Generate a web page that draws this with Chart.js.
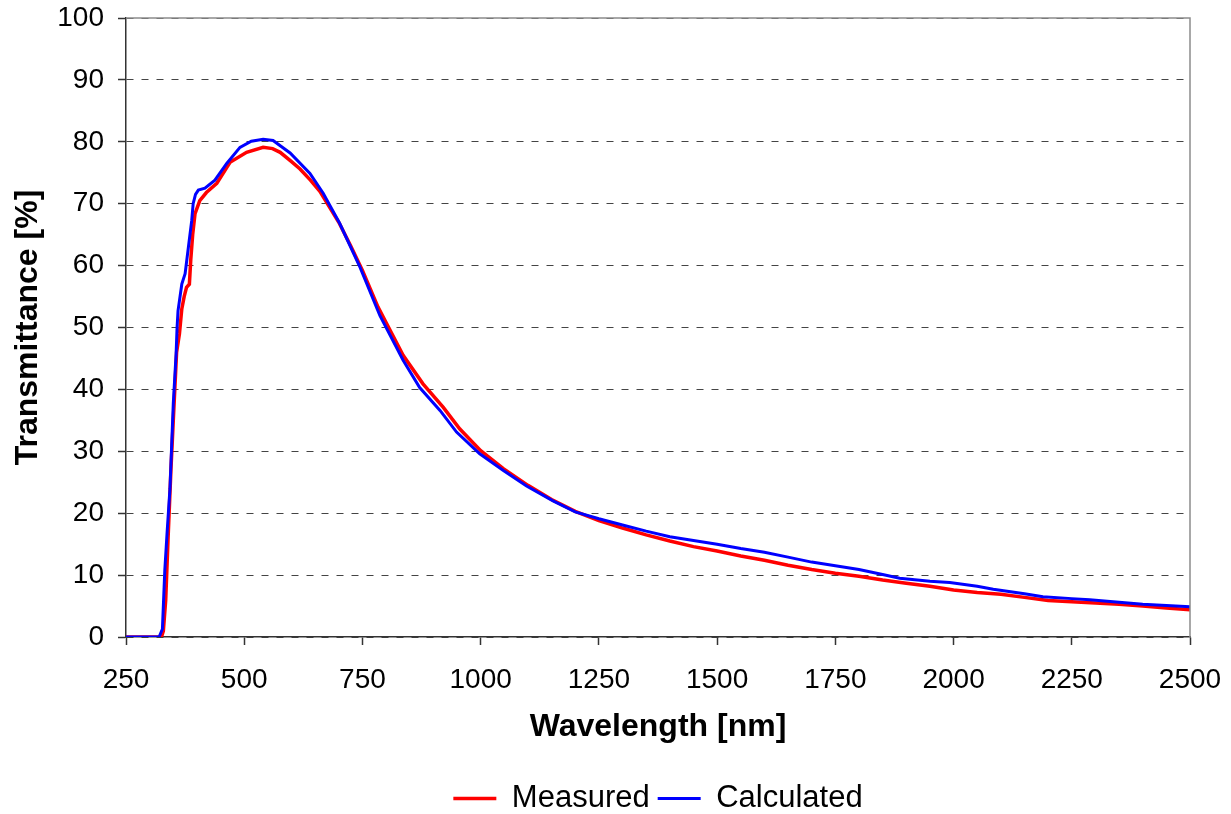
<!DOCTYPE html>
<html>
<head>
<meta charset="utf-8">
<script src="https://cdn.jsdelivr.net/npm/chart.js@4"></script>
<style>
    html, body { margin: 0; padding: 0; background: #fff; }
    #wrap { width: 1231px; height: 814px; }
</style>
</head>
<body>
<div id="wrap"><canvas id="grafico"></canvas></div>
<script>
// Measured transmittance (red)
const measuredWl = [250, 300, 325, 329, 334, 339, 345, 350, 357, 363, 368, 373, 378, 384, 387, 391, 396, 406, 420, 442,
    470, 505, 540, 560, 576, 600, 618, 640, 660, 680, 700, 725, 750, 783, 800, 836, 878, 921, 956, 1000,
    1048, 1100, 1150, 1200, 1250, 1300, 1350, 1400, 1450, 1500, 1550, 1600, 1650, 1700, 1750, 1800, 1850, 1900, 1950, 2000,
    2050, 2100, 2150, 2200, 2250, 2300, 2350, 2400, 2450, 2500];
const measuredT = [0, 0, 0, 1, 6, 16, 27, 35, 46, 49, 53, 55, 56.5, 57, 61, 65, 68.4, 70.5, 71.8, 73.3,
    76.7, 78.3, 79.1, 78.9, 78.3, 76.8, 75.6, 73.8, 72.0, 69.5, 67.0, 63.2, 59.2, 53.3, 50.8, 45.5, 40.9, 37.1, 33.6, 30.1,
    27.2, 24.5, 22.2, 20.3, 18.8, 17.6, 16.5, 15.5, 14.6, 13.9, 13.1, 12.4, 11.6, 10.9, 10.3, 9.8, 9.2, 8.7, 8.2, 7.6,
    7.2, 6.9, 6.4, 5.9, 5.7, 5.5, 5.3, 5.0, 4.7, 4.4];

// Calculated transmittance (blue)
const calculatedWl = [250, 300, 320, 327, 332, 337, 343, 350, 356, 358, 360, 368, 375, 382, 389, 392, 397, 403, 417, 438,
    463, 491, 515, 540, 561, 597, 639, 667, 702, 745, 787, 836, 871, 914, 949, 998, 1048, 1097, 1153, 1200,
    1250, 1300, 1350, 1400, 1450, 1500, 1550, 1600, 1650, 1700, 1750, 1800, 1850, 1886, 1950, 1992, 2050, 2084, 2150, 2189,
    2250, 2288, 2350, 2400, 2450, 2500];
const calculatedT = [0, 0, 0, 1.3, 10.7, 17, 24, 37.7, 45.8, 50, 52.7, 57, 58.7, 63, 67.3, 70, 71.5, 72.2, 72.5, 73.8,
    76.5, 79.1, 80.1, 80.4, 80.2, 78.2, 74.9, 71.7, 66.8, 59.7, 51.9, 44.7, 40.3, 36.6, 33.1, 29.6, 26.9, 24.4, 22.0, 20.2,
    19.1, 18.1, 17.1, 16.2, 15.6, 15.0, 14.3, 13.7, 12.9, 12.1, 11.5, 10.9, 10.1, 9.5, 9.0, 8.8, 8.2, 7.7, 7.0, 6.5,
    6.2, 6.0, 5.6, 5.3, 5.1, 4.9];

const seriesLabels = ['Measured', 'Calculated'];
const xTitle = 'Wavelength [nm]';
const yTitle = 'Transmittance [%]';
const xMin = 250, xMax = 2500, xStep = 250;
const yMin = 0, yMax = 100, yStep = 10;

const toPoints = (xs, ys) => xs.map((x, i) => ({x: x, y: ys[i]}));

// moldura cinza em volta da área do gráfico
const plotFrame = {
    id: 'plotFrame',
    afterDraw(chart) {
        const a = chart.chartArea;
        const ctx = chart.ctx;
        ctx.save();
        ctx.strokeStyle = '#8c8c8c';
        ctx.lineWidth = 1.5;
        ctx.beginPath();
        ctx.moveTo(a.left, a.top);
        ctx.lineTo(a.right, a.top);
        ctx.lineTo(a.right, a.bottom);
        ctx.stroke();
        ctx.restore();
    }
};

Chart.defaults.font.family = '"Liberation Sans", Arial, sans-serif';
Chart.defaults.color = '#000';

new Chart(document.getElementById('grafico').getContext('2d'), {
    type: 'line',
    data: {
        datasets: [{
            label: seriesLabels[0],
            data: toPoints(measuredWl, measuredT),
            borderColor: '#ff0000',
            backgroundColor: '#ff0000',
            borderWidth: 3.5,
            pointRadius: 0,
            tension: 0,
            order: 1
        }, {
            label: seriesLabels[1],
            data: toPoints(calculatedWl, calculatedT),
            borderColor: '#0000ff',
            backgroundColor: '#0000ff',
            borderWidth: 3,
            pointRadius: 0,
            tension: 0,
            order: 0
        }]
    },
    options: {
        responsive: true,
        maintainAspectRatio: false,
        animation: false,
        layout: { padding: { top: 18, right: 41, bottom: -10, left: 0 } },
        plugins: {
            legend: {
                position: 'bottom',
                fullSize: false,
                labels: {
                    usePointStyle: true,
                    pointStyle: 'line',
                    pointStyleWidth: 43,
                    font: { size: 31 },
                    color: '#000',
                    padding: 8,
                    sort: (a, b) => a.datasetIndex - b.datasetIndex
                }
            },
            tooltip: { enabled: false }
        },
        scales: {
            x: {
                type: 'linear',
                min: xMin,
                max: xMax,
                afterFit(scale) {
                    scale.height = 138;
                    scale.paddingLeft = 0;
                    scale.paddingRight = 0;
                },
                ticks: { stepSize: xStep, font: { size: 28 }, color: '#000', padding: 18, maxRotation: 0,
                    callback: (v) => String(v) },
                grid: { drawOnChartArea: false, drawTicks: true, tickLength: 8, color: '#333', tickWidth: 1.5 },
                border: { color: '#333', width: 1.5 },
                title: { display: true, text: xTitle, font: { size: 32, weight: 'bold' }, color: '#000', padding: { top: 12, bottom: 29 } }
            },
            y: {
                min: yMin,
                max: yMax,
                afterFit(scale) {
                    scale.width = 126;
                    scale.paddingTop = 0;
                    scale.paddingBottom = 0;
                },
                ticks: { stepSize: yStep, font: { size: 28 }, color: '#000', padding: 14, callback: (v) => String(v) },
                grid: { color: '#444', lineWidth: 1, tickLength: 8, tickColor: '#333', tickWidth: 1.5 },
                border: { color: '#333', width: 1.5, dash: [7, 8] },
                title: { display: true, text: yTitle, font: { size: 32, weight: 'bold' }, color: '#000', padding: { top: 9, bottom: 0 } }
            }
        }
    },
    plugins: [plotFrame]
});
</script>
</body>
</html>
